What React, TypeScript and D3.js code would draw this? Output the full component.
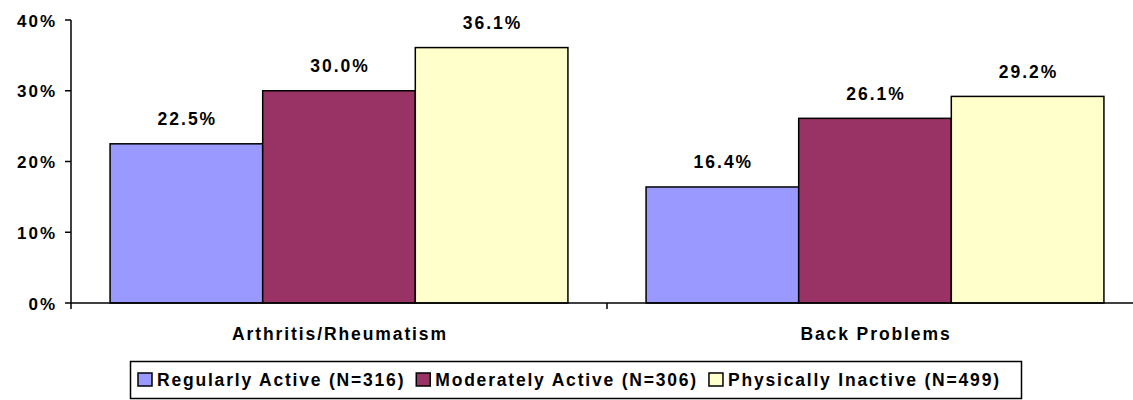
import React, { useEffect, useRef } from "react";
import * as d3 from "d3";

const categories = ["Arthritis/Rheumatism", "Back Problems"];
const seriesNames = [
  "Regularly Active (N=316)",
  "Moderately Active (N=306)",
  "Physically Inactive (N=499)",
];
const regularlyActive = [22.5, 16.4];
const moderatelyActive = [30.0, 26.1];
const physicallyInactive = [36.1, 29.2];
const yTicks = [0, 10, 20, 30, 40];
const colors = ["#9999FF", "#993366", "#FFFFCC"];

const W = 1133;
const H = 400;
const FONT = "'Liberation Sans', Arial, Helvetica, sans-serif";

export default function App() {
  const ref = useRef<SVGSVGElement>(null);

  useEffect(() => {
    const svg = d3.select(ref.current);
    svg.selectAll("*").remove();

    const left = 71;
    const right = 1143;
    const top = 20;
    const bottom = 303;

    const values = [regularlyActive, moderatelyActive, physicallyInactive];

    const x0 = d3.scaleBand<string>().domain(categories).range([left, right]).padding(0);
    const inner = d3
      .scaleBand<string>()
      .domain(seriesNames)
      .range([0, x0.bandwidth()])
      .paddingInner(0)
      .paddingOuter(0.256);
    const y = d3.scaleLinear().domain([0, 40]).range([bottom, top]);

    const g = svg.append("g");

    // bars
    categories.forEach((cat, ci) => {
      seriesNames.forEach((s, si) => {
        const v = values[si][ci];
        const bx = (x0(cat) as number) + (inner(s) as number);
        g.append("rect")
          .attr("x", bx)
          .attr("y", y(v))
          .attr("width", inner.bandwidth())
          .attr("height", y(0) - y(v))
          .attr("fill", colors[si])
          .attr("stroke", "#000")
          .attr("stroke-width", 1.5);
        g.append("text")
          .attr("x", bx + inner.bandwidth() / 2 + 1)
          .attr("y", y(v) - 18.5)
          .attr("text-anchor", "middle")
          .attr("font-family", FONT)
          .attr("font-weight", "bold")
          .attr("font-size", 17.5)
          .attr("letter-spacing", 2)
          .attr("fill", "#000")
          .text(v.toFixed(1) + "%");
      });
    });

    // y axis
    g.append("line")
      .attr("x1", left).attr("x2", left)
      .attr("y1", top).attr("y2", bottom + 6)
      .attr("stroke", "#000").attr("stroke-width", 1.5);
    yTicks.forEach((t) => {
      g.append("line")
        .attr("x1", left - 6).attr("x2", left)
        .attr("y1", y(t)).attr("y2", y(t))
        .attr("stroke", "#000").attr("stroke-width", 1.5);
      g.append("text")
        .attr("x", 57)
        .attr("y", y(t) + 6.5)
        .attr("text-anchor", "end")
        .attr("font-family", FONT)
        .attr("font-weight", "bold")
        .attr("font-size", 17)
        .attr("letter-spacing", 2)
        .attr("fill", "#000")
        .text(t + "%");
    });

    // x axis
    g.append("line")
      .attr("x1", left).attr("x2", right)
      .attr("y1", bottom).attr("y2", bottom)
      .attr("stroke", "#000").attr("stroke-width", 1.5);
    categories.forEach((cat, i) => {
      if (i > 0) {
        const tx = x0(cat) as number;
        g.append("line")
          .attr("x1", tx).attr("x2", tx)
          .attr("y1", bottom).attr("y2", bottom + 6)
          .attr("stroke", "#000").attr("stroke-width", 1.5);
      }
      g.append("text")
        .attr("x", (x0(cat) as number) + x0.bandwidth() / 2 + 1)
        .attr("y", 340)
        .attr("text-anchor", "middle")
        .attr("font-family", FONT)
        .attr("font-weight", "bold")
        .attr("font-size", 17.5)
        .attr("letter-spacing", 1.9)
        .attr("fill", "#000")
        .text(cat);
    });

    // legend
    const lg = svg.append("g");
    lg.append("rect")
      .attr("x", 130.5).attr("y", 361.5)
      .attr("width", 891).attr("height", 37)
      .attr("fill", "#fff").attr("stroke", "#000").attr("stroke-width", 1.5);
    let cx = 138;
    seriesNames.forEach((s, si) => {
      lg.append("rect")
        .attr("x", cx).attr("y", 373)
        .attr("width", 14).attr("height", 13)
        .attr("fill", colors[si]).attr("stroke", "#000").attr("stroke-width", 1.5);
      const t = lg.append("text")
        .attr("x", cx + 19)
        .attr("y", 385.5)
        .attr("font-family", FONT)
        .attr("font-weight", "bold")
        .attr("font-size", 17.5)
        .attr("letter-spacing", 1.8)
        .attr("fill", "#000")
        .text(s);
      const w = (t.node() as SVGTextElement).getComputedTextLength();
      cx = cx + 19 + w + 11;
    });
  }, []);

  return (
    <svg
      ref={ref}
      width={W}
      height={H}
      style={{ position: "absolute", left: 0, top: 0, background: "#fff" }}
    />
  );
}
